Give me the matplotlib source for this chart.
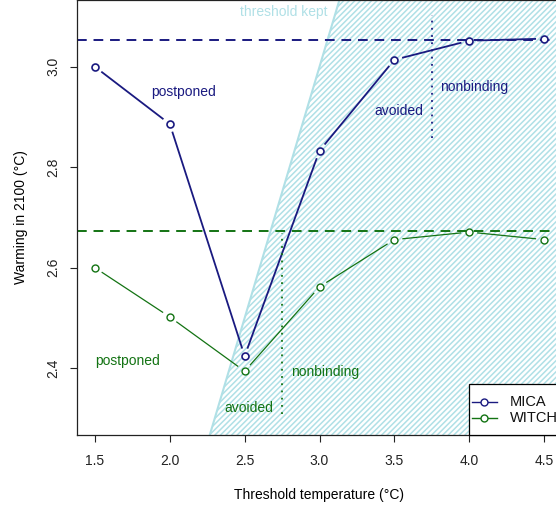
import numpy as np
import matplotlib
matplotlib.use("Agg")
import matplotlib.pyplot as plt
from matplotlib.patches import Polygon, Rectangle

plt.rcParams['font.family'] = ['Liberation Sans', 'DejaVu Sans']
plt.rcParams['font.size'] = 10
plt.rcParams['hatch.linewidth'] = 1.1

# threshold temperatures
thresholds = [1.5, 2.0, 2.5, 3.0, 3.5, 4.0, 4.5]

# warming in 2100 per model
mica = [3.000, 2.886, 2.424, 2.833, 3.014, 3.052, 3.056]
witch = [2.600, 2.502, 2.394, 2.562, 2.656, 2.671, 2.656]

# no-threshold reference levels
mica_ref = 3.054
witch_ref = 2.673

# region boundaries between regimes
mica_split = 3.75
witch_split = 2.75

navy = '#1a1a80'
green = '#137313'
kept = '#b0e0e6'

xlim = (1.38, 4.62)
ylim = (2.267, 3.133)


def plot_type_b(ax, x, y, color, lw, gap=8, **kw):
    """lines with gaps around the points, like R's type='b'"""
    pts = ax.transData.transform(np.column_stack([x, y]))
    inv = ax.transData.inverted()
    for p0, p1 in zip(pts[:-1], pts[1:]):
        d = p1 - p0
        n = np.hypot(*d)
        if n <= 2 * gap:
            continue
        u = d / n
        a, b = inv.transform([p0 + u * gap, p1 - u * gap])
        ax.plot([a[0], b[0]], [a[1], b[1]], color=color, lw=lw, solid_capstyle='butt')
    ax.plot(x, y, ls='none', marker='o', ms=5, mfc='white', mec=color, **kw)


fig = plt.figure(figsize=(5.56, 5.08), dpi=100)
ax = fig.add_axes([77/556, 73/508, 485/556, 435/508])
ax.set_xlim(*xlim)
ax.set_ylim(*ylim)

# threshold kept area: warming below threshold (below y = x)
poly = Polygon([(ylim[0], ylim[0]), (ylim[1], ylim[1]), (xlim[1], ylim[1]), (xlim[1], ylim[0])],
               closed=True, facecolor='none', edgecolor=kept, hatch='//////', linewidth=0)
ax.add_patch(poly)
ax.plot([ylim[0], ylim[1]], [ylim[0], ylim[1]], color=kept, lw=1.5)
ax.text(2.76, 3.110, 'threshold kept', color=kept, ha='center', va='center')

ax.axhline(mica_ref, color=navy, ls=(0, (5, 3.5)), lw=1.4)
ax.axhline(witch_ref, color=green, ls=(0, (5, 3.5)), lw=1.4)

plot_type_b(ax, thresholds, mica, navy, 1.3, mew=1.2)
plot_type_b(ax, thresholds, witch, green, 0.9, mew=1.0)

ax.plot([mica_split, mica_split], [2.859, 3.103], color=navy, ls=(0, (1, 3)), lw=1.3)
ax.plot([witch_split, witch_split], [2.309, 2.67], color=green, ls=(0, (1, 3)), lw=1.3)

ax.text(2.09, 2.950, 'postponed', color=navy, ha='center', va='center')
ax.text(3.53, 2.912, 'avoided', color=navy, ha='center', va='center')
ax.text(4.03, 2.960, 'nonbinding', color=navy, ha='center', va='center')
ax.text(1.72, 2.414, 'postponed', color=green, ha='center', va='center')
ax.text(2.53, 2.320, 'avoided', color=green, ha='center', va='center')
ax.text(3.04, 2.392, 'nonbinding', color=green, ha='center', va='center')

ax.set_xticks(thresholds)
ax.set_xticklabels(['%.1f' % t for t in thresholds])
yt = [2.4, 2.6, 2.8, 3.0]
ax.set_yticks(yt)
ax.set_yticklabels(['%.1f' % v for v in yt], rotation=90, va='center')
ax.tick_params(axis='x', length=5, width=0.8, pad=9, colors='#222222')
ax.tick_params(axis='y', length=5, width=0.8, pad=7, colors='#222222')
for s in ax.spines.values():
    s.set_linewidth(0.9)
    s.set_color('#222222')

ax.set_xlabel('Threshold temperature (°C)', labelpad=14)
ax.set_ylabel('Warming in 2100 (°C)', labelpad=13)

# legend box in the lower right corner, drawn like R's legend()
ax.add_patch(Rectangle((0.808, 0.0), 0.3, 0.117, transform=ax.transAxes,
                       facecolor='white', edgecolor='black', lw=0.9, zorder=5, clip_on=False))
for name, col, yrow in [('MICA', navy, 0.076), ('WITCH', green, 0.039)]:
    ax.plot([0.814, 0.866], [yrow, yrow], color=col, lw=1.0, transform=ax.transAxes, zorder=6)
    ax.plot([0.840], [yrow], ls='none', marker='o', ms=5, mfc='white', mec=col,
            transform=ax.transAxes, zorder=7)
    ax.text(0.893, yrow, name, transform=ax.transAxes, va='center', ha='left',
            fontsize=10.5, color='#111111', zorder=7)

fig.savefig('out.png', dpi=100)
